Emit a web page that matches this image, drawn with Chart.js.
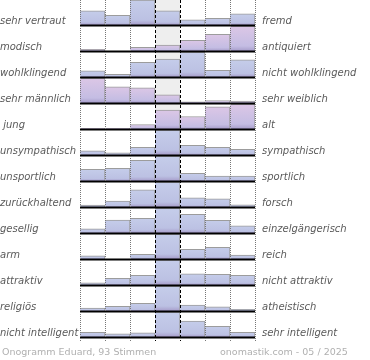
<!DOCTYPE html>
<html>
<head>
<meta charset="utf-8">
<script src="https://cdn.jsdelivr.net/npm/chart.js@4.4.0/dist/chart.umd.min.js"></script>
<style>
  body { margin: 0; background: #fff; }
  #wrap { position: relative; width: 370px; height: 360px; }
  .foot { position: absolute; top: 346px; line-height: 12px; font: 9.5px 'DejaVu Sans', sans-serif; color: #b0b0b0; white-space: nowrap; }
</style>
</head>
<body>
<div id="wrap">
  <canvas id="onogramm" width="370" height="360"></canvas>
  <div class="foot" style="left:2px">Onogramm Eduard, 93 Stimmen</div>
  <div class="foot" style="left:220px">onomastik.com - 05 / 2025</div>
</div>
<script>
// Eigenschaften, links / rechts
var leftLabels = ['sehr vertraut', 'modisch', 'wohlklingend', 'sehr männlich', ' jung', 'unsympathisch',
  'unsportlich', 'zurückhaltend', 'gesellig', 'arm', 'attraktiv', 'religiös', 'nicht intelligent'];
var rightLabels = ['fremd', 'antiquiert', 'nicht wohlklingend', 'sehr weiblich', 'alt', 'sympathisch',
  'sportlich', 'forsch', 'einzelgängerisch', 'reich', 'nicht attraktiv', 'atheistisch', 'sehr intelligent'];
var steps = ['1', '2', '3', '4', '5', '6', '7'];

// Stimmenverteilung je Zeile, in % des höchsten Balkens
var vertraut = [57, 39, 100, 57, 21, 27, 45];
var modisch = [7, 0, 15, 24, 43, 67, 100];
var wohlklingend = [25, 11, 59, 72, 100, 27, 69];
var maennlich = [100, 65, 61, 33, 5, 10, 8];
var jung = [3, 3, 18, 76, 50, 89, 100];
var sympathisch = [17, 9, 31, 100, 39, 31, 23];
var sportlich = [47, 51, 83, 100, 31, 20, 20];
var forsch = [8, 24, 69, 100, 37, 33, 9];
var gesellig = [17, 52, 59, 100, 75, 51, 29];
var reich = [13, 0, 19, 100, 39, 47, 16];
var attraktiv = [9, 27, 39, 100, 45, 43, 39];
var religioes = [12, 19, 31, 100, 24, 17, 7];
var intelligent = [19, 13, 17, 100, 64, 43, 19];

var series = [vertraut, modisch, wohlklingend, maennlich, jung, sympathisch, sportlich,
  forsch, gesellig, reich, attraktiv, religioes, intelligent];
var pinkRows = [1, 3, 4];

var rowH = 26, barMax = 25;
var yMax = 12 + barMax / rowH;

function barFill(ctx) {
  var c = ctx.chart, y = c.scales.y;
  if (!ctx.raw || !y) return '#c4cbe9';
  var top = y.getPixelForValue(ctx.raw[1]);
  var bot = y.getPixelForValue(ctx.raw[0]);
  if (!isFinite(top) || !isFinite(bot) || top === bot) return '#c4cbe9';
  var g = c.ctx.createLinearGradient(0, top, 0, bot);
  var pink = pinkRows.indexOf(ctx.datasetIndex) >= 0;
  g.addColorStop(0, pink ? '#dcc7e6' : '#c5cdea');
  g.addColorStop(0.8, pink ? '#c4bde3' : '#bcc1e3');
  g.addColorStop(1, '#a69cca');
  return g;
}

var datasets = series.map(function(row, i) {
  var base = 12 - i;
  return {
    label: leftLabels[i],
    data: row.map(function(v) { return v > 0 ? [base, base + v / 100 * barMax / rowH] : null; }),
    backgroundColor: barFill,
    borderColor: '#9c9c9c',
    borderWidth: { top: 1, right: 1, bottom: 0, left: 0 },
    borderSkipped: false,
    barPercentage: 1,
    categoryPercentage: 1,
    grouped: false
  };
});

var raster = {
  id: 'raster',
  beforeDatasetsDraw: function(chart) {
    var ctx = chart.ctx, x = chart.scales.x, a = chart.chartArea;
    var w = x.getPixelForValue(1) - x.getPixelForValue(0);
    ctx.save();
    ctx.fillStyle = '#eeeeee';
    ctx.fillRect(x.getPixelForValue(3) - w / 2, a.top, w, a.bottom - a.top);
    ctx.restore();
  },
  afterDatasetsDraw: function(chart) {
    var ctx = chart.ctx, x = chart.scales.x, y = chart.scales.y, a = chart.chartArea;
    var w = x.getPixelForValue(1) - x.getPixelForValue(0);
    ctx.save();
    // Grundlinien
    ctx.strokeStyle = '#000';
    ctx.lineWidth = 2;
    for (var i = 0; i < series.length; i++) {
      var py = Math.round(y.getPixelForValue(12 - i)) + 0.5;
      ctx.beginPath();
      ctx.moveTo(a.left, py);
      ctx.lineTo(a.right, py);
      ctx.stroke();
    }
    // Spaltenlinien
    ctx.lineWidth = 1;
    for (var k = 0; k <= steps.length; k++) {
      var px = Math.round(x.getPixelForValue(0) - w / 2 + k * w) + 0.5;
      var mid = (k === 3 || k === 4);
      ctx.strokeStyle = mid ? '#000' : '#777';
      ctx.setLineDash(mid ? [3, 2] : [1, 1]);
      ctx.beginPath();
      ctx.moveTo(px, a.top);
      ctx.lineTo(px, a.bottom + 4);
      ctx.stroke();
    }
    ctx.restore();
  }
};

function sideAxis(pos, labels, width) {
  return {
    type: 'linear',
    position: pos,
    min: 0,
    max: yMax,
    afterBuildTicks: function(s) {
      s.ticks = labels.map(function(_, i) { return { value: 12 - i + 0.14 }; });
    },
    afterFit: function(s) {
      s.width = width;
      s.paddingTop = 0;
      s.paddingBottom = 0;
    },
    grid: { display: false, drawTicks: false },
    border: { display: false },
    ticks: {
      autoSkip: false,
      crossAlign: pos === 'left' ? 'far' : 'near',
      padding: pos === 'left' ? 0 : 7,
      color: '#5a5a5a',
      font: { family: 'DejaVu Sans', size: 10, style: 'italic' },
      callback: function(v, i) { return labels[i]; }
    }
  };
}

new Chart(document.getElementById('onogramm'), {
  type: 'bar',
  data: { labels: steps, datasets: datasets },
  options: {
    responsive: false,
    animation: false,
    layout: { padding: { top: 0, bottom: 23, left: 0, right: 0 } },
    plugins: { legend: { display: false }, tooltip: { enabled: false } },
    scales: {
      x: { display: false },
      y: sideAxis('left', leftLabels, 80),
      y2: sideAxis('right', rightLabels, 115)
    }
  },
  plugins: [raster]
});
</script>
</body>
</html>
